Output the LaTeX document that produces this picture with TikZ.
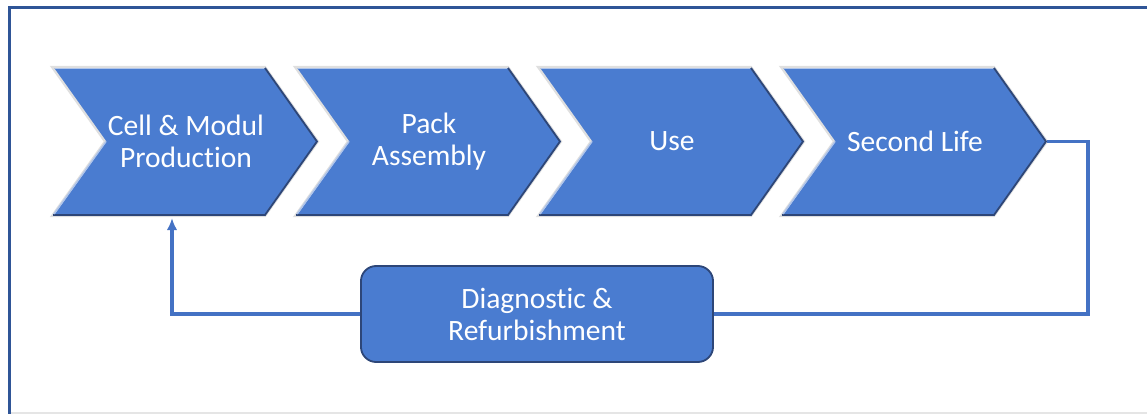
\documentclass[tikz,border=0pt]{standalone}
\usepackage{fontspec}
\setmainfont{Carlito}[Ligatures=NoCommon]
\usepackage{tikz}
\usetikzlibrary{arrows.meta}
\definecolor{boxblue}{RGB}{74,124,208}
\definecolor{edgeblue}{RGB}{45,70,120}
\definecolor{linkblue}{RGB}{68,114,196}
\definecolor{framblue}{RGB}{47,85,151}

\begin{document}
\begin{tikzpicture}[x=0.025cm,y=-0.025cm,
    stagetext/.style={text=white,align=center,font=\fontsize{21}{22.8}\selectfont},
    link/.style={linkblue,line width=2.7pt}]
      \useasboundingbox (0,0) rectangle (1147,414);
      % frame
      \draw[framblue,line width=2.5pt] (9.5,414) -- (9.5,7.5) -- (1147,7.5);
      \draw[gray!20,line width=0.8pt] (11,413) -- (1147,413);
      % chevrons
      \foreach \x/\name/\txt in {52/cell/{Cell \& Modul\\Production},295/pack/{Pack\\Assembly},538/use/{Use},781/second/{Second Life}} {
        \draw[gray!25,line width=1.6pt,fill=boxblue] (\x,67) -- (\x+213,67) -- (\x+266,141.5) -- (\x+213,216) -- (\x,216) -- (\x+53,141.5) -- cycle;
        \draw[edgeblue,line width=1.3pt] (\x+213,68) -- (\x+265,141.5) -- (\x+213,215) -- (\x+1,215);
        \draw[white!55!boxblue,line width=1pt] (\x+3,68.5) -- (\x+212,68.5);
        \draw[white!55!boxblue,line width=1pt] (\x+2,214) -- (\x+54,141.5);
        \node[stagetext] (\name) at (\x+134,141.5) {\txt};
        \coordinate (\name tip) at (\x+266,141.5);
      }
      % diagnostic box
      \node[stagetext,fill=boxblue,draw=edgeblue,line width=1.3pt,rounded corners=0.38cm,
            minimum width=8.8cm,minimum height=2.4cm] (diag) at (537,314) {Diagnostic \&\\Refurbishment};
      \coordinate (turn) at (1088,314);
      \coordinate (back) at (172,218);
      \draw[link] (secondtip) -| (turn) -- (diag.east);
      \draw[link,-{Latex[length=3mm,width=2.6mm]}] (diag.west) -| (back);
    \end{tikzpicture}
\end{document}
